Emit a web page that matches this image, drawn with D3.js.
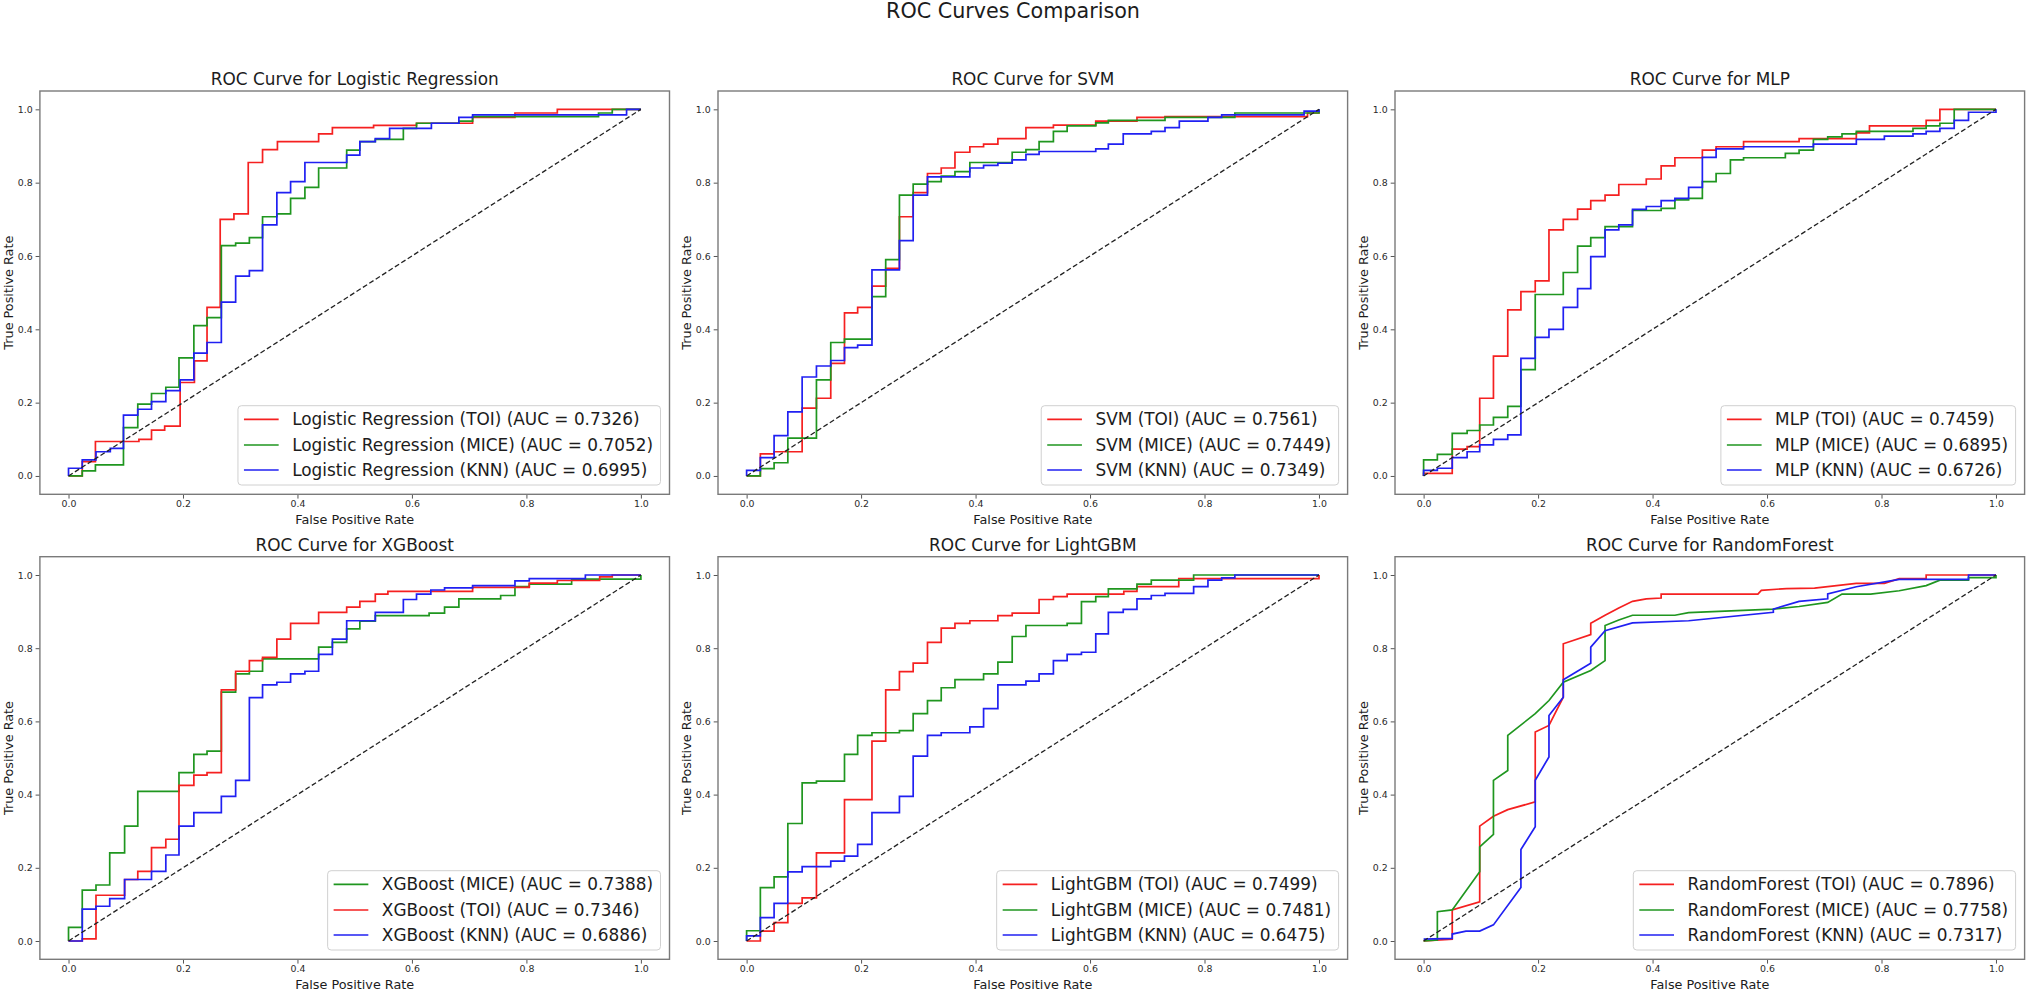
<!DOCTYPE html>
<html><head><meta charset="utf-8">
<script src="https://cdn.jsdelivr.net/npm/d3@7"></script>
<style>
html,body{margin:0;padding:0;background:#fff;}
svg{display:block;font-family:"DejaVu Sans",sans-serif;}
</style></head><body>
<svg id="chart" width="2026" height="991"></svg>
<script>
// ---------------- DATA ----------------
const models = ["Logistic Regression", "SVM", "MLP", "XGBoost", "LightGBM", "RandomForest"];
const tickValues = [0, 0.2, 0.4, 0.6, 0.8, 1.0];
const suptitle = "ROC Curves Comparison";

// [fpr, tpr] points
const lrTOI = [[0,0],[0.024,0.039],[0.047,0.094],[0.123,0.1],[0.145,0.125],[0.168,0.136],[0.195,0.255],[0.22,0.314],[0.242,0.46],[0.265,0.70],[0.289,0.715],[0.314,0.855],[0.339,0.89],[0.365,0.912],[0.437,0.933],[0.461,0.95],[0.533,0.956],[0.608,0.962],[0.706,0.978],[0.78,0.99],[0.854,1.0],[1,1]];
const lrMICE = [[0,0],[0.024,0.014],[0.047,0.03],[0.096,0.132],[0.121,0.196],[0.145,0.225],[0.17,0.242],[0.193,0.322],[0.219,0.41],[0.242,0.432],[0.267,0.628],[0.292,0.635],[0.316,0.65],[0.339,0.707],[0.364,0.715],[0.388,0.757],[0.413,0.787],[0.437,0.84],[0.486,0.889],[0.509,0.912],[0.536,0.918],[0.585,0.948],[0.608,0.962],[0.682,0.968],[0.706,0.98],[0.926,0.99],[0.95,1],[1,1]];
const lrKNN = [[0,0],[0,0.021],[0.024,0.044],[0.048,0.066],[0.073,0.075],[0.096,0.166],[0.121,0.182],[0.145,0.203],[0.17,0.233],[0.195,0.262],[0.219,0.335],[0.242,0.364],[0.267,0.474],[0.292,0.545],[0.316,0.56],[0.339,0.685],[0.364,0.773],[0.388,0.803],[0.413,0.855],[0.486,0.875],[0.509,0.912],[0.536,0.92],[0.561,0.948],[0.634,0.962],[0.682,0.978],[0.706,0.985],[0.975,1],[1,1]];

const svmTOI = [[0,0],[0.024,0.06],[0.048,0.066],[0.097,0.185],[0.122,0.212],[0.147,0.307],[0.171,0.445],[0.194,0.46],[0.219,0.518],[0.243,0.566],[0.267,0.707],[0.291,0.773],[0.316,0.825],[0.34,0.84],[0.364,0.883],[0.39,0.898],[0.414,0.905],[0.439,0.92],[0.488,0.95],[0.536,0.957],[0.61,0.968],[0.682,0.978],[0.731,0.98],[0.98,0.99],[1,1]];
const svmMICE = [[0,0],[0.024,0.02],[0.048,0.036],[0.072,0.103],[0.122,0.262],[0.147,0.364],[0.171,0.373],[0.219,0.489],[0.243,0.59],[0.267,0.766],[0.291,0.796],[0.316,0.803],[0.34,0.818],[0.364,0.83],[0.39,0.855],[0.464,0.883],[0.488,0.89],[0.511,0.912],[0.536,0.94],[0.56,0.955],[0.61,0.963],[0.632,0.97],[0.731,0.978],[0.853,0.99],[1,1]];
const svmKNN = [[0,0],[0,0.015],[0.024,0.05],[0.048,0.11],[0.072,0.175],[0.097,0.27],[0.122,0.3],[0.147,0.315],[0.171,0.35],[0.194,0.357],[0.219,0.562],[0.267,0.642],[0.291,0.766],[0.316,0.816],[0.39,0.84],[0.414,0.847],[0.439,0.853],[0.464,0.862],[0.488,0.877],[0.511,0.885],[0.61,0.892],[0.632,0.905],[0.658,0.933],[0.707,0.94],[0.731,0.95],[0.756,0.968],[0.806,0.978],[0.83,0.985],[0.974,0.995],[1,1]];

const mlpTOI = [[0,0],[0,0.007],[0.05,0.073],[0.076,0.08],[0.098,0.212],[0.122,0.327],[0.147,0.453],[0.17,0.503],[0.195,0.532],[0.219,0.671],[0.244,0.7],[0.269,0.728],[0.292,0.751],[0.317,0.766],[0.341,0.795],[0.389,0.81],[0.415,0.846],[0.439,0.868],[0.487,0.889],[0.511,0.898],[0.559,0.912],[0.656,0.92],[0.756,0.936],[0.779,0.955],[0.878,0.97],[0.902,1.0],[1,1]];
const mlpMICE = [[0,0],[0,0.044],[0.024,0.059],[0.05,0.116],[0.076,0.124],[0.098,0.139],[0.122,0.16],[0.147,0.19],[0.17,0.29],[0.195,0.495],[0.244,0.555],[0.269,0.627],[0.292,0.65],[0.317,0.68],[0.365,0.724],[0.415,0.73],[0.439,0.753],[0.463,0.757],[0.487,0.803],[0.511,0.825],[0.536,0.862],[0.559,0.868],[0.632,0.88],[0.656,0.889],[0.681,0.918],[0.706,0.925],[0.731,0.933],[0.756,0.94],[0.855,0.948],[0.878,0.955],[0.902,0.962],[0.927,1.0],[1,1]];
const mlpKNN = [[0,0],[0,0.015],[0.024,0.021],[0.05,0.05],[0.076,0.066],[0.098,0.085],[0.122,0.1],[0.147,0.112],[0.17,0.321],[0.195,0.378],[0.219,0.4],[0.244,0.46],[0.269,0.511],[0.292,0.598],[0.317,0.671],[0.341,0.685],[0.365,0.727],[0.389,0.735],[0.415,0.751],[0.439,0.757],[0.463,0.787],[0.487,0.869],[0.511,0.892],[0.559,0.898],[0.681,0.905],[0.756,0.918],[0.805,0.927],[0.855,0.933],[0.878,0.94],[0.902,0.948],[0.927,0.97],[0.952,0.992],[1,1]];

const xgbMICE = [[0,0],[0,0.037],[0.024,0.139],[0.048,0.153],[0.072,0.241],[0.098,0.314],[0.121,0.409],[0.193,0.46],[0.219,0.51],[0.242,0.519],[0.267,0.68],[0.292,0.73],[0.316,0.737],[0.339,0.771],[0.437,0.803],[0.461,0.816],[0.486,0.853],[0.509,0.874],[0.536,0.889],[0.63,0.896],[0.657,0.912],[0.682,0.935],[0.755,0.944],[0.78,0.968],[0.805,0.975],[0.879,0.989],[1,1]];
const xgbTOI = [[0,0],[0.024,0.006],[0.048,0.125],[0.098,0.168],[0.121,0.19],[0.145,0.255],[0.17,0.278],[0.193,0.425],[0.219,0.453],[0.242,0.46],[0.267,0.686],[0.292,0.737],[0.316,0.766],[0.339,0.775],[0.364,0.825],[0.388,0.868],[0.437,0.898],[0.486,0.912],[0.509,0.928],[0.536,0.948],[0.558,0.955],[0.706,0.966],[0.805,0.978],[0.854,0.985],[0.928,0.995],[0.95,1],[1,1]];
const xgbKNN = [[0,0],[0.024,0.087],[0.048,0.095],[0.072,0.116],[0.098,0.168],[0.145,0.19],[0.17,0.235],[0.193,0.314],[0.219,0.351],[0.267,0.395],[0.292,0.439],[0.316,0.665],[0.339,0.7],[0.364,0.707],[0.388,0.73],[0.413,0.737],[0.437,0.783],[0.461,0.825],[0.486,0.875],[0.536,0.898],[0.585,0.933],[0.608,0.948],[0.633,0.959],[0.657,0.965],[0.706,0.971],[0.78,0.984],[0.805,0.99],[0.903,1],[1,1]];

const lgbTOI = [[0,0],[0.024,0.027],[0.048,0.05],[0.072,0.103],[0.097,0.118],[0.122,0.241],[0.171,0.386],[0.219,0.546],[0.243,0.686],[0.267,0.736],[0.291,0.759],[0.316,0.816],[0.34,0.855],[0.364,0.868],[0.39,0.875],[0.439,0.889],[0.464,0.896],[0.511,0.933],[0.536,0.941],[0.56,0.948],[0.659,0.955],[0.682,0.968],[0.755,0.99],[1,1]];
const lgbMICE = [[0,0],[0,0.028],[0.024,0.146],[0.048,0.175],[0.072,0.321],[0.097,0.432],[0.122,0.437],[0.171,0.51],[0.194,0.562],[0.219,0.569],[0.267,0.575],[0.291,0.621],[0.316,0.657],[0.34,0.692],[0.364,0.714],[0.414,0.73],[0.439,0.762],[0.464,0.832],[0.488,0.862],[0.56,0.868],[0.585,0.927],[0.61,0.941],[0.632,0.962],[0.682,0.975],[0.707,0.986],[0.781,1],[1,1]];
const lgbKNN = [[0,0],[0,0.014],[0.024,0.064],[0.048,0.103],[0.072,0.189],[0.097,0.203],[0.147,0.218],[0.171,0.232],[0.194,0.264],[0.219,0.351],[0.267,0.395],[0.291,0.505],[0.316,0.562],[0.34,0.569],[0.39,0.585],[0.414,0.635],[0.439,0.7],[0.488,0.71],[0.511,0.73],[0.536,0.766],[0.56,0.783],[0.585,0.789],[0.61,0.839],[0.632,0.898],[0.658,0.906],[0.682,0.935],[0.707,0.944],[0.731,0.95],[0.781,0.968],[0.806,0.986],[0.83,0.992],[0.853,1],[1,1]];

const rfTOI = [[0,0],[0.05,0.005],[0.05,0.085],[0.098,0.107],[0.098,0.314],[0.122,0.341],[0.147,0.359],[0.195,0.38],[0.195,0.571],[0.219,0.589],[0.244,0.666],[0.244,0.812],[0.292,0.837],[0.292,0.868],[0.317,0.89],[0.341,0.91],[0.365,0.928],[0.389,0.935],[0.415,0.937],[0.415,0.948],[0.584,0.948],[0.59,0.958],[0.634,0.963],[0.683,0.964],[0.756,0.977],[0.805,0.977],[0.831,0.99],[0.878,0.99],[0.878,1],[1,1]];
const rfMICE = [[0,0],[0.024,0.003],[0.024,0.08],[0.05,0.085],[0.098,0.189],[0.098,0.257],[0.122,0.291],[0.122,0.439],[0.147,0.466],[0.147,0.562],[0.195,0.621],[0.219,0.657],[0.244,0.707],[0.292,0.739],[0.317,0.766],[0.317,0.862],[0.341,0.877],[0.365,0.89],[0.439,0.89],[0.463,0.897],[0.611,0.907],[0.656,0.914],[0.706,0.925],[0.731,0.948],[0.781,0.948],[0.831,0.957],[0.878,0.971],[0.902,0.986],[0.952,0.986],[0.952,0.993],[1,0.993],[1,1]];
const rfKNN = [[0,0.005],[0.05,0.007],[0.05,0.019],[0.074,0.027],[0.098,0.027],[0.122,0.044],[0.17,0.146],[0.17,0.25],[0.195,0.312],[0.195,0.439],[0.219,0.503],[0.219,0.616],[0.244,0.666],[0.244,0.714],[0.292,0.759],[0.292,0.803],[0.317,0.848],[0.365,0.869],[0.463,0.875],[0.611,0.898],[0.611,0.907],[0.656,0.928],[0.706,0.935],[0.706,0.948],[0.756,0.968],[0.831,0.988],[0.952,0.988],[0.952,1],[1,1]];

// legend order per panel: [method, auc, points]
const lrSeries  = [["TOI", "0.7326", lrTOI], ["MICE", "0.7052", lrMICE], ["KNN", "0.6995", lrKNN]];
const svmSeries = [["TOI", "0.7561", svmTOI], ["MICE", "0.7449", svmMICE], ["KNN", "0.7349", svmKNN]];
const mlpSeries = [["TOI", "0.7459", mlpTOI], ["MICE", "0.6895", mlpMICE], ["KNN", "0.6726", mlpKNN]];
const xgbSeries = [["MICE", "0.7388", xgbMICE], ["TOI", "0.7346", xgbTOI], ["KNN", "0.6886", xgbKNN]];
const lgbSeries = [["TOI", "0.7499", lgbTOI], ["MICE", "0.7481", lgbMICE], ["KNN", "0.6475", lgbKNN]];
const rfSeries  = [["TOI", "0.7896", rfTOI], ["MICE", "0.7758", rfMICE], ["KNN", "0.7317", rfKNN]];
const allSeries = [lrSeries, svmSeries, mlpSeries, xgbSeries, lgbSeries, rfSeries];

// ---------------- DRAWING ----------------
const colors = {TOI: "#f52020", MICE: "#1f961f", KNN: "#2020f2"};
const colBounds = [[39.9, 669.5], [718, 1347.6], [1395, 2024.6]];
const rowBounds = [[91, 494.3], [556.7, 959.3]];
const linearModels = new Set(["RandomForest"]);

const svg = d3.select("#chart");

function ctext(parent, x, y, str, size, anchor, rotate) {
  return parent.append("text")
    .attr("transform", `translate(${x},${y})` + (rotate ? " rotate(-90)" : ""))
    .attr("text-anchor", anchor || "middle")
    .attr("font-size", size)
    .attr("fill", "#1c1c1c")
    .text(str);
}

ctext(svg, 1013, 17.5, suptitle, 20.7, "middle");

models.forEach((name, i) => {
  const [L, R] = colBounds[i % 3];
  const [T, B] = rowBounds[Math.floor(i / 3)];
  const x = d3.scaleLinear().domain([-0.05, 1.05]).range([L, R]);
  const y = d3.scaleLinear().domain([-0.05, 1.05]).range([B, T]);
  const g = svg.append("g");

  // axes
  const xa = g.append("g").attr("transform", `translate(0,${B})`)
    .call(d3.axisBottom(x).tickValues(tickValues).tickFormat(d3.format(".1f")).tickSize(4.3).tickPadding(2.1));
  const ya = g.append("g").attr("transform", `translate(${L},0)`)
    .call(d3.axisLeft(y).tickValues(tickValues).tickFormat(d3.format(".1f")).tickSize(4.3).tickPadding(3));
  [xa, ya].forEach(a => {
    a.select(".domain").remove();
    a.attr("font-size", 9.4).attr("font-family", "DejaVu Sans, sans-serif");
    a.selectAll(".tick line").attr("stroke", "#555").attr("stroke-width", 1);
    a.selectAll(".tick text").attr("fill", "#2a2a2a");
  });

  // curves
  const line = d3.line().x(d => x(d[0])).y(d => y(d[1]))
    .curve(linearModels.has(name) ? d3.curveLinear : d3.curveStepAfter);
  allSeries[i].forEach(([m, auc, pts]) => {
    g.append("path").datum(pts).attr("d", line)
      .attr("fill", "none").attr("stroke", colors[m]).attr("stroke-width", 1.7)
      .attr("stroke-linejoin", "miter");
  });

  // diagonal
  g.append("line").attr("x1", x(0)).attr("y1", y(0)).attr("x2", x(1)).attr("y2", y(1))
    .attr("stroke", "#222").attr("stroke-width", 1.3).attr("stroke-dasharray", "5,2.6");

  // frame
  g.append("rect").attr("x", L).attr("y", T).attr("width", R - L).attr("height", B - T)
    .attr("fill", "none").attr("stroke", "#7a7a7a").attr("stroke-width", 1.4);

  // titles and labels
  ctext(g, (L + R) / 2, T - 5.7, "ROC Curve for " + name, 16.9, "middle");
  ctext(g, (L + R) / 2, B + 29.7, "False Positive Rate", 12.8, "middle");
  ctext(g, L - 27.2, (T + B) / 2, "True Positive Rate", 12.8, "middle", true);

  // legend
  const lg = g.append("g");
  const box = lg.append("rect");
  const fs = 16.9;
  const texts = allSeries[i].map(([m, auc]) =>
    ctext(lg, 0, 0, `${name} (${m}) (AUC = ${auc})`, fs, "start"));
  const maxW = d3.max(texts, t => t.node().getComputedTextLength());
  const padL = 6, handle = 34.7, gap = 13.5, padR = 7.5;
  const bw = padL + handle + gap + maxW + padR, bh = 79.3;
  const bx = R - 9 - bw, by = B - 9.3 - bh;
  box.attr("x", bx).attr("y", by).attr("width", bw).attr("height", bh)
    .attr("rx", 3.5).attr("fill", "#fff").attr("fill-opacity", 0.8)
    .attr("stroke", "#d0d0d0").attr("stroke-width", 1);
  const rowY = [by + 13.6, by + 39.3, by + 64.3];
  allSeries[i].forEach(([m], k) => {
    lg.append("line").attr("x1", bx + padL).attr("x2", bx + padL + handle)
      .attr("y1", rowY[k]).attr("y2", rowY[k])
      .attr("stroke", colors[m]).attr("stroke-width", 1.7);
    texts[k].attr("transform", `translate(${bx + padL + handle + gap},${rowY[k] + 0.36 * fs})`);
  });
});
</script>
</body></html>
